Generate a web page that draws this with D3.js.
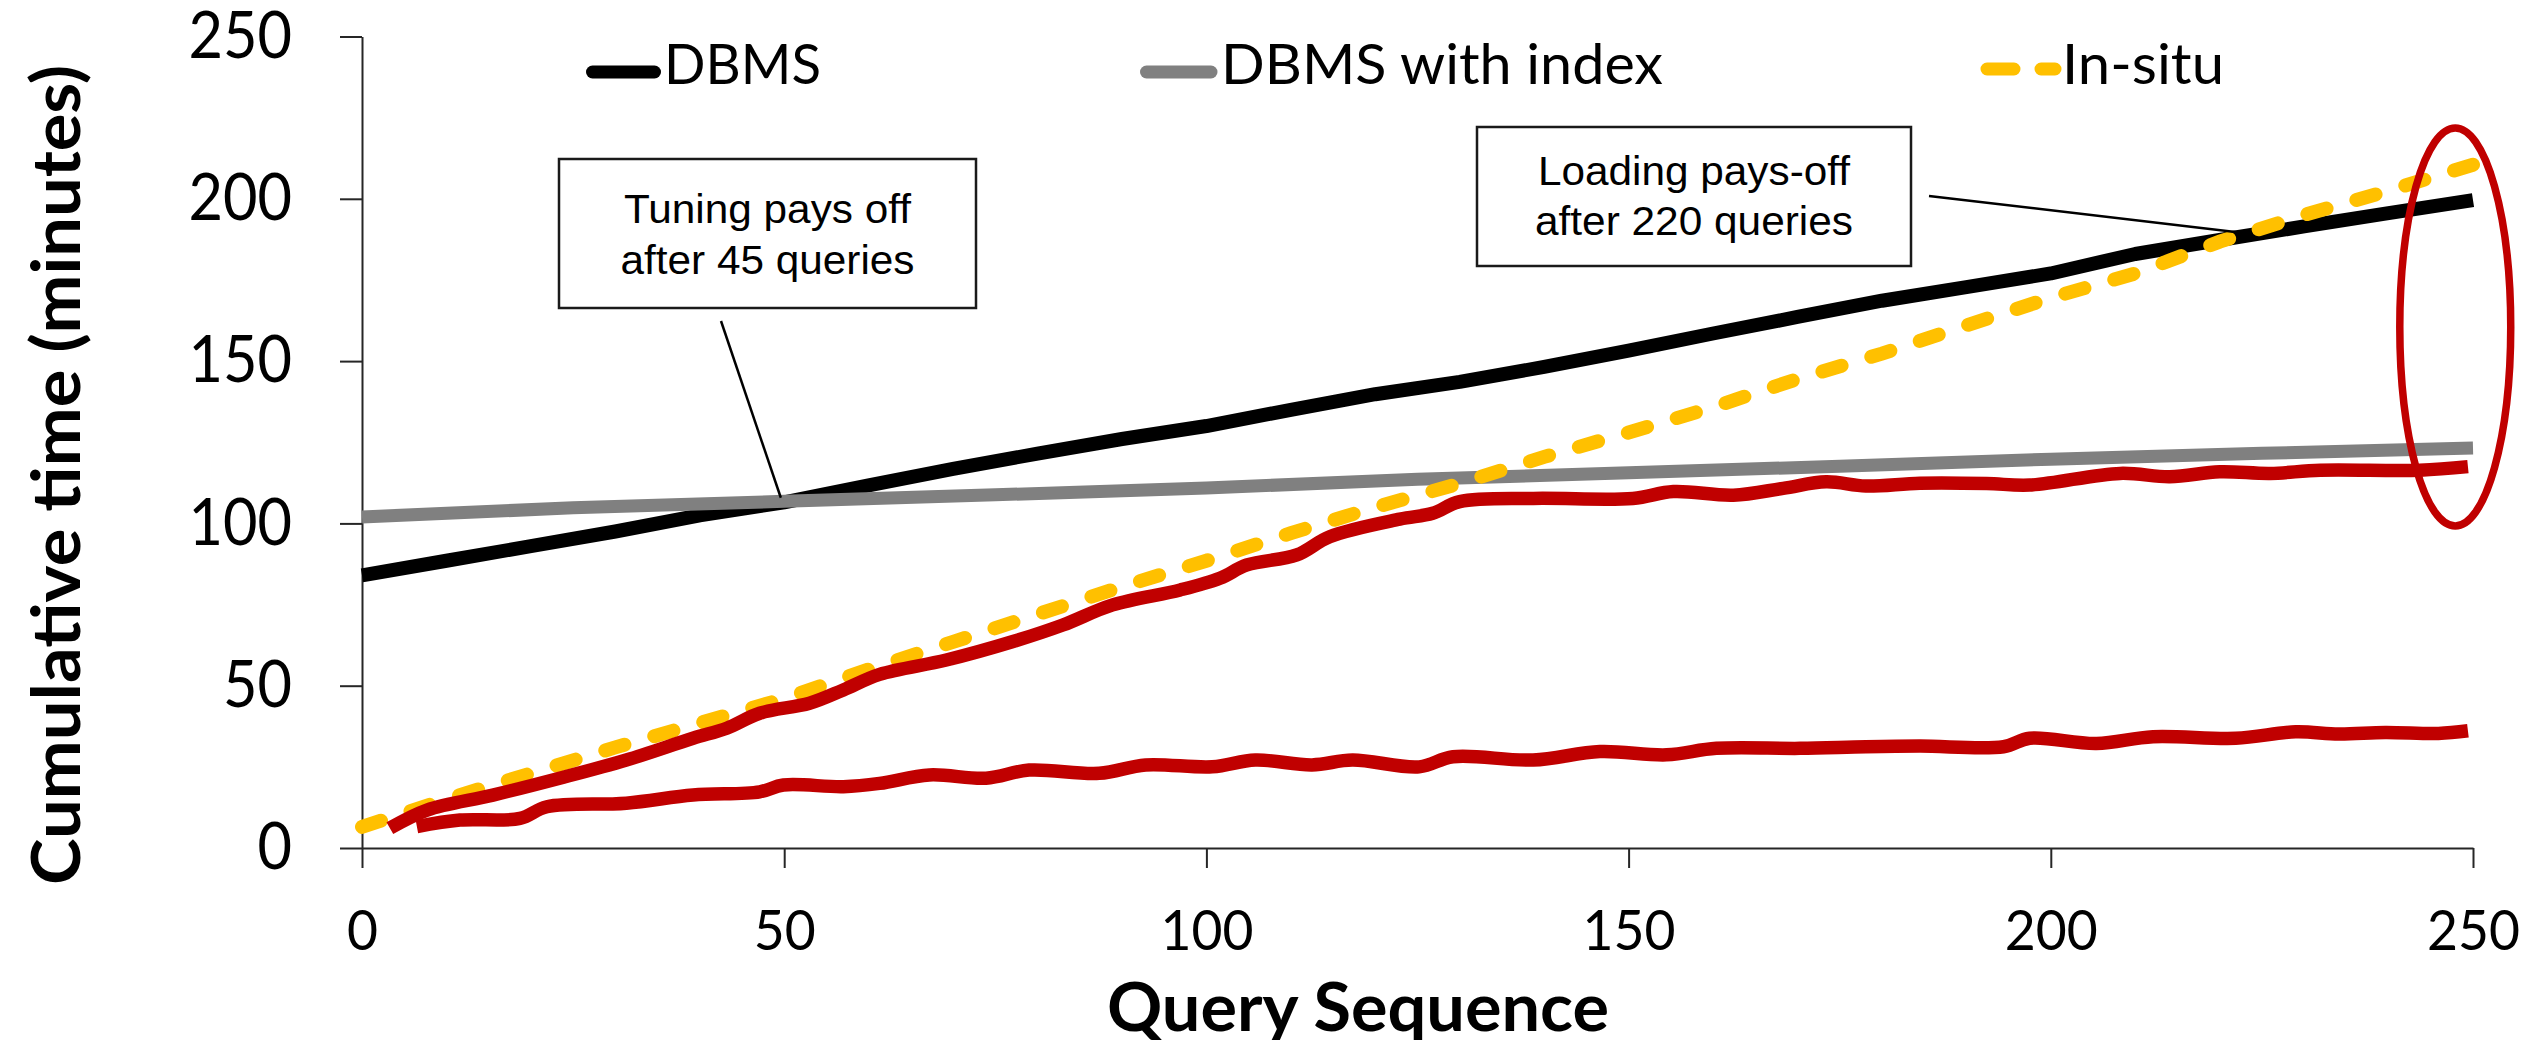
<!DOCTYPE html>
<html>
<head>
<meta charset="utf-8">
<script src="https://cdn.jsdelivr.net/npm/d3@7"></script>
<style>
  html, body { margin: 0; padding: 0; background: #ffffff; }
  svg { display: block; }
</style>
</head>
<body>
<svg id="chart" width="2539" height="1040"></svg>
<script>
// ---------------- DATA ----------------
const yTicks = [0, 50, 100, 150, 200, 250];
const xTicks = [0, 50, 100, 150, 200, 250];

const seriesNames = ["DBMS", "DBMS with index", "In-situ"];

// query positions for the DBMS and In-situ curves
const gridQueries = [0,10,20,30,40,50,60,70,80,90,100,110,120,130,140,150,160,170,180,190,200,210,220,230,240,250];
const dbmsValues = [84,88.5,93,97.5,102.5,106.5,111.7,116.8,121.5,126,130,135,139.8,143.6,148.2,153.2,158.5,163.6,168.6,172.8,177,183,187.3,191.5,195.6,199.6];
const inSituValues = [6.5,15,23,31,38.5,46,55,63.5,72,80.5,88.5,97,105,112.3,120.5,128,135.8,144.5,152.3,161,169.5,177,186.8,195,202.5,210.5];

const indexQueries = [0,25,50,75,100,125,150,175,200,225,250];
const indexValues  = [102,104.8,106.8,108.8,110.9,113.6,115.6,117.6,119.8,121.6,123.2];

// unlabeled red curves
const redUpperQueries = [3.3,7.7,15.5,23.4,31.3,39.2,43.2,47.1,53,57,61.3,69.2,77.1,83,88.9,96.9,101.6,104.8,110.7,114.6,122.9,126.8,130,138.7,150.5,155.3,162.4,168.3,173.4,178.1,184.5,192.4,197.5,208.2,214.1,220,226,231.9,243.7,249.4];
const redUpperValues  = [6.1,11.7,16.3,21.5,27.1,33.8,36.9,41.5,44.6,48.7,53.5,57.9,63.6,68.7,74.9,79.5,83.1,87.2,90.3,95.9,101.3,103.1,106.7,107.7,107.7,109.8,108.7,110.8,112.8,111.5,112.4,112.3,111.8,115.4,114.4,115.9,115.4,116.4,116.4,117.5];

const redLowerQueries = [6.5,11.6,18.7,21.9,31.3,39.2,47.1,49.9,57,61.3,67.2,73.9,79,87.3,92.8,100.7,105.8,112.5,117.3,125.2,129.2,138.7,146.6,154.5,160.4,170.3,178.1,184.5,194.4,197.5,205.4,212.1,221.9,229,234.1,239.6,245.9,249.4];
const redLowerValues  = [6.6,8.6,9.1,12.7,13.8,16.3,17.3,19.4,18.9,19.9,22.5,21.5,24.0,23.0,25.6,25.0,27.1,25.6,27.1,25.0,28.1,27.1,29.7,28.7,30.7,30.7,31.2,31.4,31.2,33.8,32.2,34.3,33.8,35.8,35.1,35.6,35.3,36.1];

// annotations: text lines and the data point each one points at
const annoTuningLines = ["Tuning pays off", "after 45 queries"];
const annoTuningTarget = [49.6, 107.9];
const annoLoadingLines = ["Loading pays-off", "after 220 queries"];
const annoLoadingTarget = [223.1, 189.4];
// highlighted region (query, value) centre and half-extents
const highlightCenter = [247.9, 160.5];
const highlightHalf = [6.57, 61.3];

const xTitle = "Query Sequence";
const yTitle = "Cumulative time (minutes)";

// ---------------- LAYOUT ----------------
const svg = d3.select("#chart");
const x = d3.scaleLinear().domain([0, 250]).range([362, 2473]);
const y = d3.scaleLinear().domain([0, 250]).range([848, 36.5]);

const zip = (qs, vs) => qs.map((q, i) => ({q: q, v: vs[i]}));

const COLORS = {dbms: "#000000", index: "#808080", insitu: "#FFC000", red: "#C00000"};
const FONT = "Lato, 'Open Sans', sans-serif";

// ---------------- AXES ----------------
const yAxis = svg.append("g")
  .attr("transform", `translate(${x(0)},0)`)
  .call(d3.axisLeft(y).tickValues(yTicks).tickSize(22).tickSizeOuter(0).tickPadding(48));
const xAxis = svg.append("g")
  .attr("transform", `translate(0,${y(0)})`)
  .call(d3.axisBottom(x).tickValues(xTicks).tickSize(20).tickSizeOuter(0).tickPadding(42));

[yAxis, xAxis].forEach(g => {
  g.selectAll("path.domain").attr("stroke", "#262626").attr("stroke-width", 2);
  g.selectAll(".tick line").attr("stroke", "#262626").attr("stroke-width", 2);
  g.selectAll(".tick text").attr("fill", "#000").attr("font-family", FONT);
});
yAxis.selectAll(".tick text").attr("font-size", 65)
  .attr("textLength", d => String(d).length * 34.5).attr("lengthAdjust", "spacingAndGlyphs");
xAxis.selectAll(".tick text").attr("font-size", 57)
  .attr("textLength", d => String(d).length * 31).attr("lengthAdjust", "spacingAndGlyphs");

// ---------------- LINES ----------------
const lineLin = d3.line().x(d => x(d.q)).y(d => y(d.v)).curve(d3.curveLinear);
const lineSmooth = d3.line().x(d => x(d.q)).y(d => y(d.v)).curve(d3.curveCatmullRom.alpha(0.5));

const plot = svg.append("g");
plot.append("path").datum(zip(gridQueries, dbmsValues))
  .attr("d", lineLin).attr("fill", "none").attr("stroke", COLORS.dbms)
  .attr("stroke-width", 14).attr("stroke-linejoin", "round");
plot.append("path").datum(zip(indexQueries, indexValues))
  .attr("d", lineLin).attr("fill", "none").attr("stroke", COLORS.index)
  .attr("stroke-width", 13).attr("stroke-linejoin", "round");
plot.append("path").datum(zip(gridQueries, inSituValues))
  .attr("d", lineLin).attr("fill", "none").attr("stroke", COLORS.insitu)
  .attr("stroke-width", 14).attr("stroke-linecap", "round").attr("stroke-dasharray", "20,31");
plot.append("path").datum(zip(redUpperQueries, redUpperValues))
  .attr("d", lineSmooth).attr("fill", "none").attr("stroke", COLORS.red)
  .attr("stroke-width", 13.5).attr("stroke-linejoin", "round");
plot.append("path").datum(zip(redLowerQueries, redLowerValues))
  .attr("d", lineSmooth).attr("fill", "none").attr("stroke", COLORS.red)
  .attr("stroke-width", 13.5).attr("stroke-linejoin", "round");

// ---------------- LEGEND ----------------
const legendItems = [
  {name: seriesNames[0], color: COLORS.dbms, x1: 592.5, x2: 654.5, ly: 72, tx: 664, tw: 157, dash: null},
  {name: seriesNames[1], color: COLORS.index, x1: 1146.5, x2: 1211, ly: 72, tx: 1221, tw: 442, dash: null},
  {name: seriesNames[2], color: COLORS.insitu, x1: 1987, x2: 2055, ly: 69, tx: 2062, tw: 162, dash: "27,27"}
];
const leg = svg.append("g");
legendItems.forEach(it => {
  const l = leg.append("line").attr("x1", it.x1).attr("x2", it.x2).attr("y1", it.ly).attr("y2", it.ly)
    .attr("stroke", it.color).attr("stroke-width", 13).attr("stroke-linecap", "round");
  if (it.dash) l.attr("stroke-dasharray", it.dash);
  leg.append("text").attr("x", it.tx).attr("y", 84).text(it.name)
    .attr("font-family", FONT).attr("font-size", 56).attr("fill", "#000")
    .attr("textLength", it.tw).attr("lengthAdjust", "spacingAndGlyphs");
});

// ---------------- ANNOTATIONS ----------------
const ann = svg.append("g");
function annotation(box, lines, widths, baselines, from, target) {
  ann.append("rect").attr("x", box[0]).attr("y", box[1]).attr("width", box[2]).attr("height", box[3])
    .attr("fill", "#fff").attr("stroke", "#1a1a1a").attr("stroke-width", 2.5);
  const cx = box[0] + box[2] / 2;
  lines.forEach((t, i) => {
    ann.append("text").attr("x", cx).attr("y", baselines[i]).attr("text-anchor", "middle")
      .attr("font-family", "'Liberation Sans', Arial, sans-serif").attr("font-size", 40).attr("fill", "#000")
      .attr("textLength", widths[i]).attr("lengthAdjust", "spacingAndGlyphs").text(t);
  });
  ann.append("line").attr("x1", from[0]).attr("y1", from[1])
    .attr("x2", x(target[0])).attr("y2", y(target[1]))
    .attr("stroke", "#000").attr("stroke-width", 2.5);
}
annotation([559, 159, 417, 149], annoTuningLines, [287, 294], [223, 273.5], [721, 321], annoTuningTarget);
annotation([1477, 127, 434, 139], annoLoadingLines, [312, 318], [184.5, 235], [1929, 196], annoLoadingTarget);

// highlight ellipse
svg.append("ellipse")
  .attr("cx", x(highlightCenter[0])).attr("cy", y(highlightCenter[1]))
  .attr("rx", x(highlightHalf[0]) - x(0)).attr("ry", y(0) - y(highlightHalf[1]))
  .attr("fill", "none").attr("stroke", COLORS.red).attr("stroke-width", 7.5);

// ---------------- TITLES ----------------
svg.append("text").attr("x", 1358).attr("y", 1031).attr("text-anchor", "middle")
  .attr("font-family", FONT).attr("font-weight", 700).attr("font-size", 66).attr("fill", "#000")
  .attr("textLength", 502).attr("lengthAdjust", "spacingAndGlyphs").text(xTitle);
svg.append("text").attr("transform", "translate(80,475) rotate(-90)").attr("text-anchor", "middle")
  .attr("font-family", FONT).attr("font-weight", 700).attr("font-size", 66).attr("fill", "#000")
  .attr("textLength", 820).attr("lengthAdjust", "spacingAndGlyphs").text(yTitle);
</script>
</body>
</html>
